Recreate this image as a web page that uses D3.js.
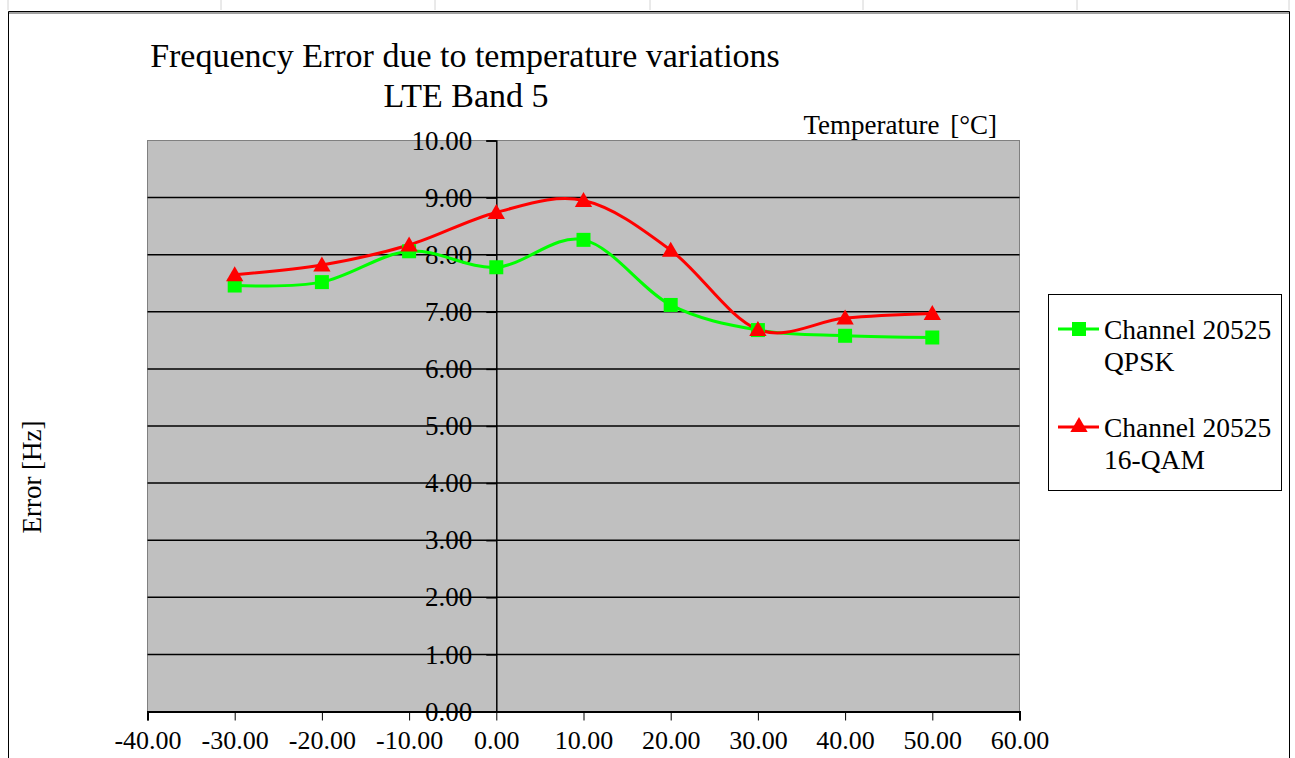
<!DOCTYPE html>
<html>
<head>
<meta charset="utf-8">
<script src="https://cdn.jsdelivr.net/npm/d3@7"></script>
<style>
  body { margin: 0; background: #fff; }
  svg text { font-family: "Liberation Serif", "Times New Roman", serif; fill: #000; }
</style>
</head>
<body>
<script>
// temperatures [°C]
var temps = [-30, -20, -10, 0, 10, 20, 30, 40, 50];
// frequency error [Hz], Channel 20525 QPSK
var qpsk = [7.46, 7.52, 8.06, 7.78, 8.26, 7.12, 6.68, 6.58, 6.55];
// frequency error [Hz], Channel 20525 16-QAM
var qam16 = [7.65, 7.82, 8.17, 8.74, 8.95, 8.08, 6.69, 6.89, 6.97];
var xTicks = [-40, -30, -20, -10, 0, 10, 20, 30, 40, 50, 60];
var yTicks = [0, 1, 2, 3, 4, 5, 6, 7, 8, 9, 10];
var seriesNames = ['Channel 20525|QPSK', 'Channel 20525|16-QAM'];
var colors = ['#00ff00', '#ff0000'];
var sheetCols = [8, 221, 435, 650, 863, 1077, 1289];

var W = 1295, H = 758;
var svg = d3.select('body').append('svg').attr('width', W).attr('height', H);
var fmt = function(d) { return d3.format('.2f')(d).replace('\u2212', '-'); };

// spreadsheet cell lines above the chart
svg.selectAll('line.cell').data(sheetCols).enter().append('line')
  .attr('x1', function(d) { return d; }).attr('x2', function(d) { return d; })
  .attr('y1', 0).attr('y2', 10).style('stroke', '#d4d4d4').style('stroke-width', 1);

// chart frame
svg.append('path').attr('d', 'M8.5,' + H + 'V11.5H1289.5V' + H)
  .style('fill', 'none').style('stroke', '#000').style('stroke-width', 1);
svg.append('line').attr('x1', 9).attr('x2', 1289).attr('y1', 13).attr('y2', 13)
  .style('stroke', '#444').style('stroke-width', 1);

var x = d3.scaleLinear().domain([-40, 60]).range([147.5, 1019.5]);
var y = d3.scaleLinear().domain([0, 10]).range([711.5, 140.5]);

// plot area
svg.append('rect').attr('x', x(-40)).attr('y', y(10))
  .attr('width', x(60) - x(-40)).attr('height', y(0) - y(10))
  .style('fill', '#c0c0c0').style('stroke', '#808080').style('stroke-width', 1);

// horizontal gridlines
svg.selectAll('line.grid').data(yTicks.slice(1, 10)).enter().append('line')
  .attr('x1', x(-40)).attr('x2', x(60))
  .attr('y1', function(d) { return y(d); }).attr('y2', function(d) { return y(d); })
  .style('stroke', '#000').style('stroke-width', 1.5);

// y axis at x = 0
var yAxis = svg.append('g').attr('transform', 'translate(' + x(0) + ',0)')
  .call(d3.axisLeft(y).tickValues(yTicks).tickFormat(fmt).tickSizeInner(10).tickSizeOuter(10).tickPadding(14));
yAxis.select('.domain').style('stroke', '#000').style('stroke-width', 1.5);
yAxis.selectAll('.tick line').style('stroke', '#000').style('stroke-width', 1.5);
yAxis.selectAll('text').style('font-family', '"Liberation Serif", serif').style('font-size', '27px').attr('dy', '0.32em');

// x axis at y = 0
var xAxis = svg.append('g').attr('transform', 'translate(0,' + y(0) + ')')
  .call(d3.axisBottom(x).tickValues(xTicks).tickFormat(fmt).tickSizeInner(9).tickSizeOuter(9).tickPadding(10));
xAxis.select('.domain').style('stroke', '#000').style('stroke-width', 2);
xAxis.selectAll('.tick line').style('stroke', '#000').style('stroke-width', 1);
xAxis.selectAll('text').style('font-family', '"Liberation Serif", serif').style('font-size', '26px');

// series
var series = [qpsk, qam16];
var line = d3.line()
  .x(function(d, i) { return x(temps[i]); })
  .y(function(d) { return y(d); })
  .curve(d3.curveCatmullRom.alpha(0));

series.forEach(function(s, k) {
  svg.append('path').datum(s).attr('d', line)
    .style('fill', 'none').style('stroke', colors[k]).style('stroke-width', 3);
});

var sym = [d3.symbol().type(d3.symbolSquare).size(196), d3.symbol().type(d3.symbolTriangle).size(130)];
series.forEach(function(s, k) {
  svg.selectAll('path.m' + k).data(s).enter().append('path')
    .attr('transform', function(d, i) { return 'translate(' + x(temps[i]) + ',' + (y(d) + (k === 1 ? 1.5 : 0)) + ')'; })
    .attr('d', sym[k]).style('fill', colors[k]).style('stroke', 'none');
});

// titles
svg.append('text').attr('x', 465).attr('y', 67).attr('text-anchor', 'middle')
  .style('font-size', '34px').text('Frequency Error due to temperature variations');
svg.append('text').attr('x', 466).attr('y', 107).attr('text-anchor', 'middle')
  .style('font-size', '34px').text('LTE Band 5');
svg.append('text').attr('x', 997).attr('y', 134).attr('text-anchor', 'end')
  .style('font-size', '27px').style('word-spacing', '4px').text('Temperature [°C]');
svg.append('text').attr('transform', 'translate(41,477) rotate(-90)').attr('text-anchor', 'middle')
  .style('font-size', '27px').text('Error [Hz]');

// legend
var lg = svg.append('g');
lg.append('rect').attr('x', 1048.5).attr('y', 294.5).attr('width', 233).attr('height', 196)
  .style('fill', '#fff').style('stroke', '#000').style('stroke-width', 1);
var legY = [329, 427];
seriesNames.forEach(function(n, k) {
  var g = lg.append('g').attr('transform', 'translate(0,' + legY[k] + ')');
  g.append('line').attr('x1', 1058).attr('x2', 1099).attr('y1', 0).attr('y2', 0)
    .style('stroke', colors[k]).style('stroke-width', 3);
  g.append('path').attr('transform', 'translate(1079,0)').attr('d', sym[k])
    .style('fill', colors[k]);
  var parts = n.split('|');
  g.append('text').attr('x', 1104).attr('y', 10).style('font-size', '27.5px').text(parts[0]);
  g.append('text').attr('x', 1104).attr('y', 42).style('font-size', '27.5px').text(parts[1]);
});
</script>
</body>
</html>
